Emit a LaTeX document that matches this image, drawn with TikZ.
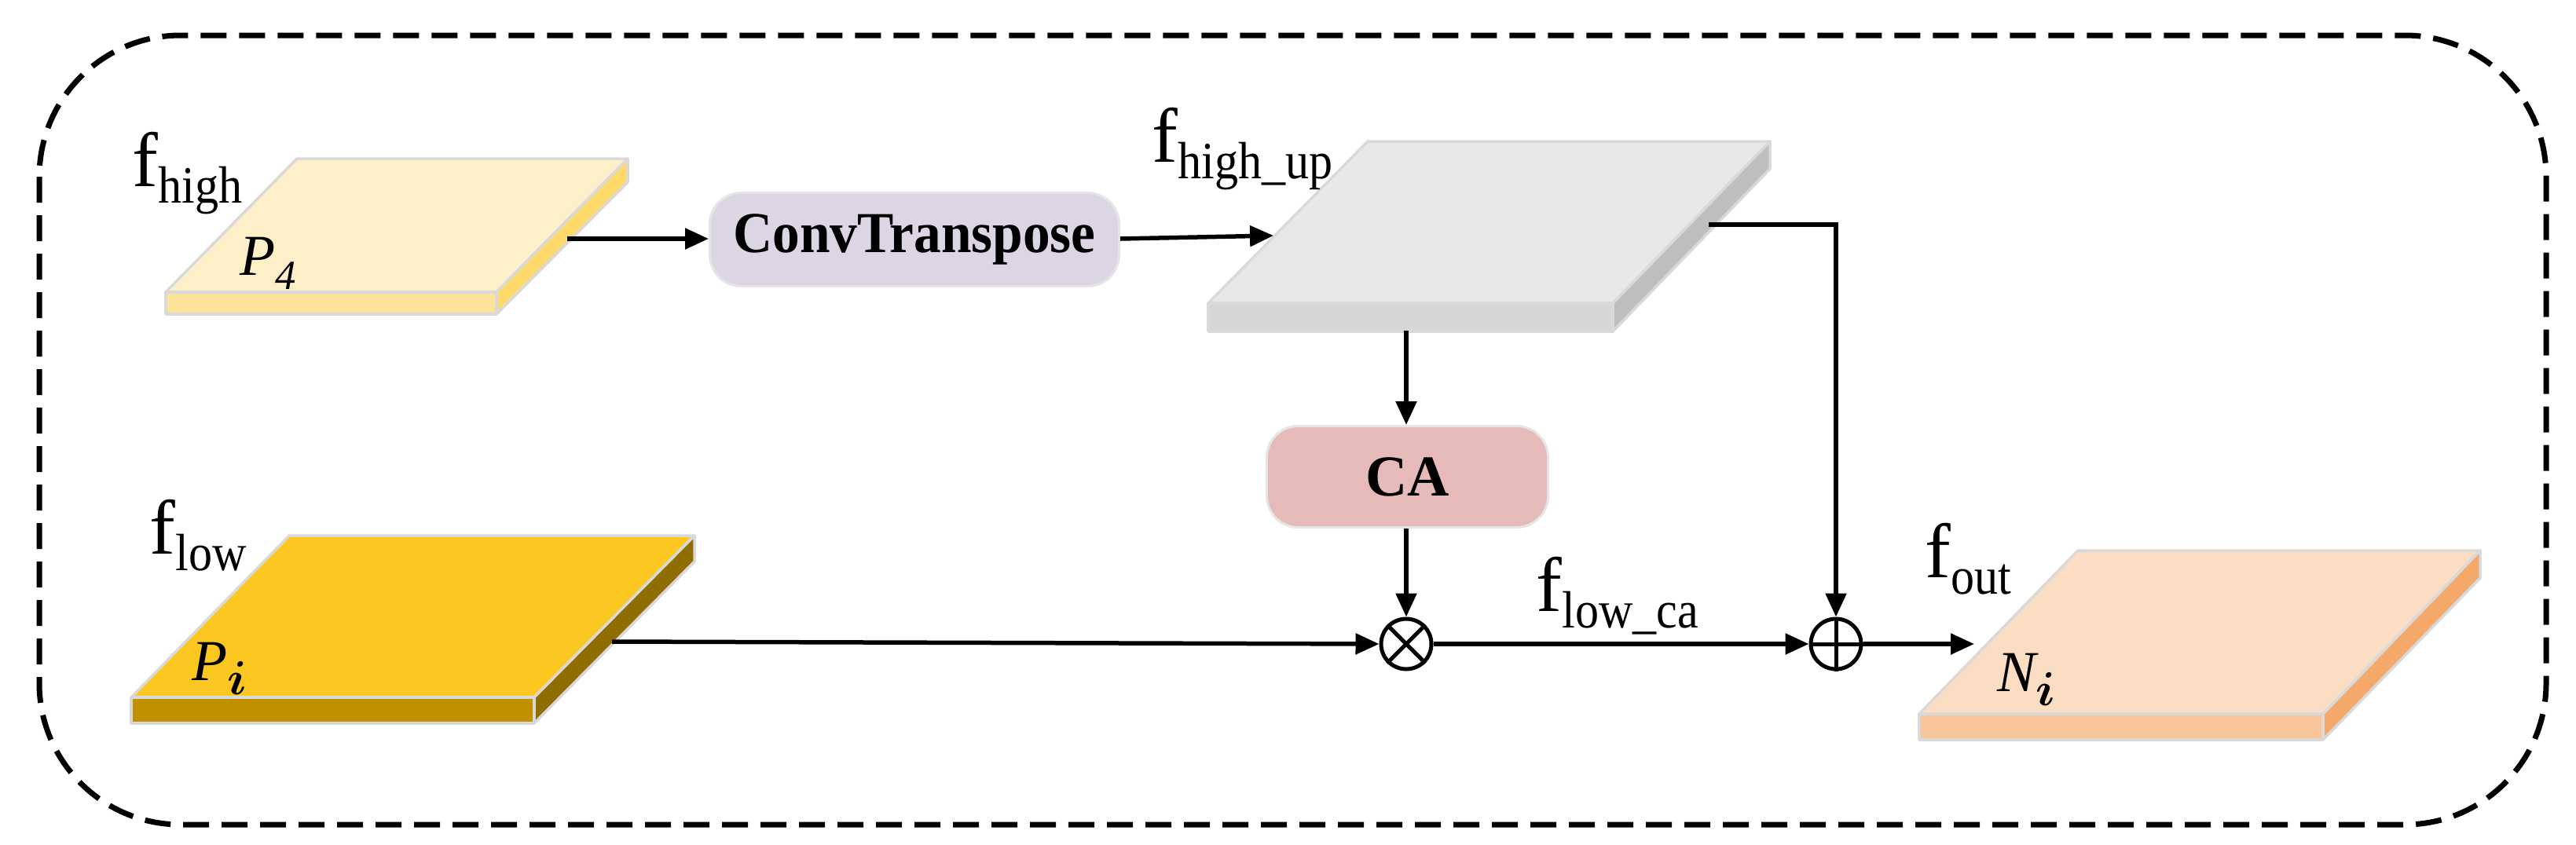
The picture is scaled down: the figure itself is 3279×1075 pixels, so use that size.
\documentclass[tikz,border=0pt]{standalone}
\usepackage{fontspec}
\setmainfont{Liberation Serif}
\usetikzlibrary{arrows.meta}
\begin{document}
\begin{tikzpicture}[x=0.1mm,y=-0.1mm,
  slabedge/.style={draw=black!15,line width=0.35mm,line join=round},
  arr/.style={draw=black,line width=0.55mm,-{Triangle[length=3mm,width=2.6mm]}},
  box/.style={rounded corners=4mm,draw=black!10,line width=0.3mm,inner sep=0pt,anchor=north west},
  op/.style={circle,draw=black,line width=0.5mm,minimum size=6.4mm,inner sep=0pt},
  lab/.style={inner sep=0pt,anchor=base west,font=\fontsize{28}{32}\selectfont},
  plab/.style={inner sep=0pt,anchor=base west,font=\fontsize{21}{25}\selectfont\itshape}]
\newcommand\fsub[1]{f\raisebox{-0.22em}{\fontsize{19}{20}\selectfont\scalebox{0.9}[1]{#1}}}
\useasboundingbox (0,0) rectangle (3279,1075);
% dashed frame
\draw[line width=0.7mm,dash pattern=on 3.3mm off 1.6mm,rounded corners=18mm] (50,45) rectangle (3241,1050);
% P4 slab
\filldraw[slabedge,fill={rgb,255:red,253;green,240;blue,200}] (378,202) -- (799,202) -- (632,372) -- (211,372) -- cycle;
\filldraw[slabedge,fill={rgb,255:red,253;green,227;blue,154}] (211,372) -- (632,372) -- (632,400) -- (211,400) -- cycle;
\filldraw[slabedge,fill={rgb,255:red,253;green,217;blue,106}] (799,202) -- (799,232) -- (632,400) -- (632,372) -- cycle;
\node[plab] (p4) at (305,350) {P\raisebox{-0.25em}{\fontsize{15}{18}\selectfont 4}};
\node[lab] (fh) at (168,237) {\fsub{high}};
\coordinate (p4o) at (722,304);
% ConvTranspose
\node[box,fill={rgb,255:red,220;green,214;blue,228},minimum width=52.1mm,minimum height=11.9mm,font=\fontsize{21}{25}\selectfont\bfseries] (ct) at (902,244) {\scalebox{0.94}[1]{ConvTranspose}};
% high_up slab
\filldraw[slabedge,fill={rgb,255:red,232;green,232;blue,232}] (1741,180) -- (2253,180) -- (2053,386) -- (1538,386) -- cycle;
\filldraw[slabedge,fill={rgb,255:red,214;green,214;blue,214}] (1538,386) -- (2053,386) -- (2053,422) -- (1538,422) -- cycle;
\filldraw[slabedge,fill={rgb,255:red,190;green,190;blue,190}] (2253,180) -- (2253,215) -- (2053,422) -- (2053,386) -- cycle;
\node[lab] (fhu) at (1466,206) {\fsub{high\_up}};
\coordinate (hui) at (1621,300);
\coordinate (hub) at (1790,421);
\coordinate (hur) at (2175,286);
% CA
\node[box,fill={rgb,255:red,230;green,186;blue,184},minimum width=35.8mm,minimum height=12.9mm,font=\fontsize{21}{25}\selectfont\bfseries] (ca) at (1611,541) {CA};
% operators
\node[op] (mul) at (1790,820) {};
\draw[line width=0.5mm] (mul.north west) -- (mul.south east) (mul.north east) -- (mul.south west);
\node[op] (add) at (2337,820) {};
\draw[line width=0.5mm] (add.north) -- (add.south) (add.west) -- (add.east);
% Pi slab
\filldraw[slabedge,fill={rgb,255:red,253;green,199;blue,33}] (368,682) -- (884,682) -- (680,888) -- (167,888) -- cycle;
\filldraw[slabedge,fill={rgb,255:red,192;green,144;blue,0}] (167,888) -- (680,888) -- (680,921) -- (167,921) -- cycle;
\filldraw[slabedge,fill={rgb,255:red,143;green,109;blue,0}] (884,682) -- (884,715) -- (680,921) -- (680,888) -- cycle;
\node[plab] (pi) at (244,866) {P\raisebox{-0.25em}{\fontsize{17}{18}\selectfont\boldmath$i$}};
\node[lab] (fl) at (190,705) {\fsub{low}};
\coordinate (pio) at (779,817);
% Ni slab
\filldraw[slabedge,fill={rgb,255:red,251;green,221;blue,196}] (2645,701) -- (3157,701) -- (2957,909) -- (2443,909) -- cycle;
\filldraw[slabedge,fill={rgb,255:red,248;green,196;blue,154}] (2443,909) -- (2957,909) -- (2957,942) -- (2443,942) -- cycle;
\filldraw[slabedge,fill={rgb,255:red,244;green,169;blue,106}] (3157,701) -- (3157,736) -- (2957,942) -- (2957,909) -- cycle;
\node[plab] (ni) at (2542,880) {N\raisebox{-0.25em}{\fontsize{17}{18}\selectfont\boldmath$i$}};
\coordinate (nii) at (2513,820);
\node[lab] (fo) at (2450,735) {\fsub{out}};
\node[lab] (flc) at (1955,778) {\fsub{low\_ca}};
% connectors
\draw[arr] (p4o) -- (ct.west |- p4o);
\draw[arr] (ct.east |- p4o) -- (hui);
\draw[arr] (hub) -- (ca.north -| hub);
\draw[arr] (ca.south -| mul) -- (mul.north);
\draw[arr] (pio) -- (mul.west);
\draw[arr] (mul.east) -- (add.west);
\draw[arr] (hur) -| (add.north);
\draw[arr] (add.east) -- (nii);
\end{tikzpicture}
\end{document}
